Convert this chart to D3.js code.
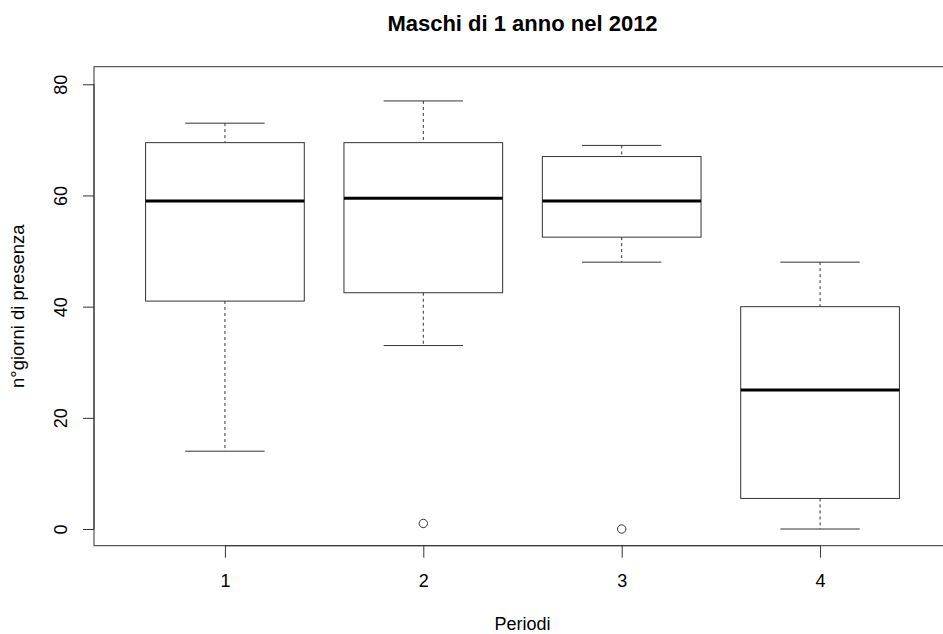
<!DOCTYPE html>
<html><head><meta charset="utf-8">
<script src="https://cdn.jsdelivr.net/npm/d3@7"></script>
<style>body{margin:0;background:#fff;}svg{display:block;font-family:"Liberation Sans",Arial,sans-serif;}</style>
</head><body>
<svg id="c" width="943" height="634"></svg>
<script>
const categories = ["1","2","3","4"];
const lowerWhisker = [14, 33, 48, 0];
const q1 = [41, 42.5, 52.5, 5.5];
const median = [59, 59.5, 59, 25];
const q3 = [69.5, 69.5, 67, 40];
const upperWhisker = [73, 77, 69, 48];
const outliers = [[], [1], [0], []];
const yTicks = [0, 20, 40, 60, 80];
const title = "Maschi di 1 anno nel 2012";
const xLabel = "Periodi";
const yLabel = "n°giorni di presenza";

const svg = d3.select("#c");
const L = 94, R = 951, T = 66.7, B = 545.7;
const x = d3.scaleLinear().domain([0.34, 4.66]).range([L, R]);
const y = d3.scaleLinear().domain([-3.0, 83.16]).range([B, T]);
const boxW = (x(1) - x(0)) * 0.8;
const capW = boxW / 2;
const col = "#333";
const FONT = "Liberation Sans, Arial, sans-serif";

const data = categories.map((c, i) => ({c, i, pos: i + 1, lw: lowerWhisker[i], q1: q1[i], med: median[i], q3: q3[i], uw: upperWhisker[i], out: outliers[i]}));

const g = svg.append("g");
data.forEach(d => {
  const cx = x(d.pos);
  g.append("line").attr("x1", cx).attr("x2", cx).attr("y1", y(d.uw)).attr("y2", y(d.q3))
    .attr("stroke", col).attr("stroke-dasharray", "3,3");
  g.append("line").attr("x1", cx).attr("x2", cx).attr("y1", y(d.q1)).attr("y2", y(d.lw))
    .attr("stroke", col).attr("stroke-dasharray", "3,3");
  [d.uw, d.lw].forEach(v => g.append("line").attr("x1", cx - capW/2).attr("x2", cx + capW/2)
    .attr("y1", y(v)).attr("y2", y(v)).attr("stroke", col));
  g.append("rect").attr("x", cx - boxW/2).attr("y", y(d.q3)).attr("width", boxW)
    .attr("height", y(d.q1) - y(d.q3)).attr("fill", "none").attr("stroke", col);
  g.append("line").attr("x1", cx - boxW/2).attr("x2", cx + boxW/2)
    .attr("y1", y(d.med)).attr("y2", y(d.med)).attr("stroke", "#000").attr("stroke-width", 3);
  d.out.forEach(v => g.append("circle").attr("cx", cx).attr("cy", y(v)).attr("r", 4.2)
    .attr("fill", "none").attr("stroke", col));
});

svg.append("rect").attr("x", L).attr("y", T).attr("width", R - L).attr("height", B - T)
  .attr("fill", "none").attr("stroke", col);

const ya = svg.append("g").attr("transform", `translate(${L},0)`)
  .call(d3.axisLeft(y).tickValues(yTicks).tickSize(11).tickPadding(0).tickSizeOuter(0));
ya.attr("font-size", null).attr("font-family", null);
ya.select(".domain").attr("d", `M0,${y(0)}V${y(80)}`).attr("stroke", col);
ya.selectAll(".tick line").attr("stroke", col);
ya.selectAll(".tick text").attr("transform", "rotate(-90)").attr("x", 0).attr("y", -33)
  .attr("dy", "0.35em").attr("text-anchor", "middle").style("font-size", "18px")
  .attr("fill", "#000").style("font-family", FONT);

const xa = svg.append("g").attr("transform", `translate(0,${B})`)
  .call(d3.axisBottom(x).tickValues([1,2,3,4]).tickFormat((d,i) => categories[i]).tickSize(12).tickPadding(0).tickSizeOuter(0));
xa.attr("font-size", null).attr("font-family", null);
xa.select(".domain").attr("d", `M${x(1)},0H${x(4)}`).attr("stroke", col);
xa.selectAll(".tick line").attr("stroke", col);
xa.selectAll(".tick text").attr("y", 41).attr("dy", 0).style("font-size", "18px")
  .attr("fill", "#000").style("font-family", FONT);

svg.append("text").attr("x", (L + R) / 2).attr("y", 30.5).attr("text-anchor", "middle")
  .style("font-size", "22px").attr("font-weight", "bold").attr("fill", "#000").text(title);
svg.append("text").attr("x", (L + R) / 2).attr("y", 630).attr("text-anchor", "middle")
  .style("font-size", "18px").attr("fill", "#000").text(xLabel);
svg.append("text").attr("transform", `translate(24,${(T + B) / 2}) rotate(-90)`)
  .attr("text-anchor", "middle").style("font-size", "18.5px").attr("fill", "#000").text(yLabel);
</script>
</body></html>
